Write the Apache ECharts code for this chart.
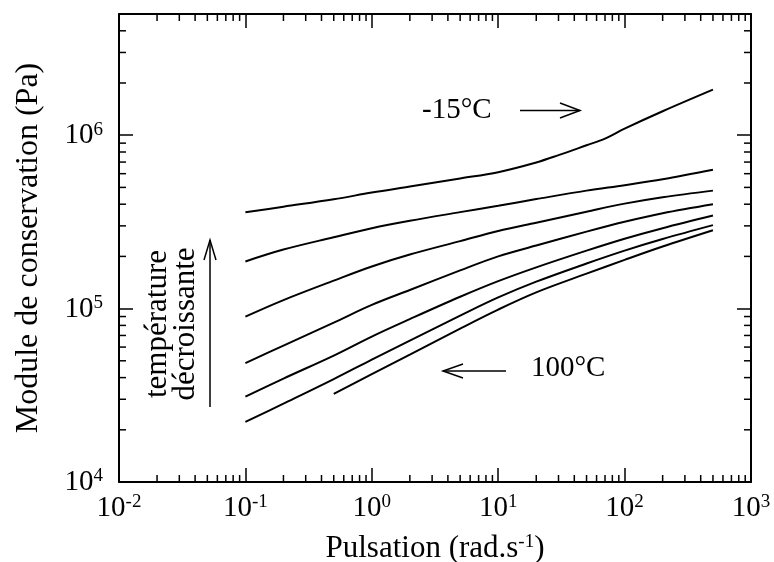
<!DOCTYPE html>
<html>
<head>
<meta charset="utf-8">
<script src="https://cdn.jsdelivr.net/npm/echarts@6/dist/echarts.min.js"></script>
<style>
html,body{margin:0;padding:0;background:#fff;}
#chart{width:774px;height:562px;}
</style>
</head>
<body>
<div id="chart"></div>
<script>
// ---- data ----
const omega = [0.1, 0.2, 0.5, 1, 2, 5, 10, 20, 50, 100, 200, 500];
const omegaTop = [0.1, 0.2, 0.5, 1, 2, 5, 10, 20, 30, 50, 70, 100, 200, 500];
const G_m15 = [3.59e5, 3.87e5, 4.27e5, 4.67e5, 5.06e5, 5.63e5, 6.12e5, 6.96e5, 7.67e5, 8.75e5, 9.55e5, 1.09e6, 1.374e6, 1.83e6];
const G_2 = [1.87e5, 2.19e5, 2.58e5, 2.91e5, 3.21e5, 3.60e5, 3.92e5, 4.28e5, 4.79e5, 5.15e5, 5.57e5, 6.32e5];
const G_3 = [8.99e4, 1.12e5, 1.45e5, 1.75e5, 2.05e5, 2.45e5, 2.80e5, 3.13e5, 3.62e5, 4.03e5, 4.39e5, 4.79e5];
const G_4 = [4.85e4, 6.12e4, 8.30e4, 1.05e5, 1.28e5, 1.66e5, 2.00e5, 2.31e5, 2.78e5, 3.17e5, 3.55e5, 4.00e5];
const G_5 = [3.11e4, 3.95e4, 5.36e4, 6.90e4, 8.70e4, 1.17e5, 1.44e5, 1.73e5, 2.16e5, 2.53e5, 2.91e5, 3.44e5];
const G_6 = [2.22e4, 2.83e4, 3.92e4, 5.08e4, 6.54e4, 9.11e4, 1.16e5, 1.43e5, 1.82e5, 2.16e5, 2.52e5, 3.03e5];
const omega100 = [0.5, 1, 2, 5, 10, 20, 50, 100, 200, 500];
const G_100 = [3.22e4, 4.19e4, 5.43e4, 7.67e4, 9.87e4, 1.24e5, 1.59e5, 1.91e5, 2.28e5, 2.83e5];

const xRange = [0.01, 1000];
const yRange = [1e4, 5e6];
const xTitle = 'Pulsation (rad.s{sup|-1})';
const yTitle = 'Module de conservation (Pa)';
const labelHot = '-15°C';
const labelCold = '100°C';
const labelTemp = 'température\ndécroissante';

// minor tick values (2..9 x 10^k)
function minorValues(lo, hi) {
  const out = [];
  for (let k = Math.floor(Math.log10(lo)); k <= Math.ceil(Math.log10(hi)); k++) {
    for (let m = 2; m <= 9; m++) {
      const v = m * Math.pow(10, k);
      if (v > lo && v < hi) out.push(v);
    }
  }
  return out;
}
const xMinor = minorValues(xRange[0], xRange[1]);
const yMinor = minorValues(yRange[0], yRange[1]);

const FONT = '"Liberation Serif", "Times New Roman", serif';

function decadeLabel(v) {
  const e = Math.log10(v);
  const n = Math.round(e);
  if (Math.abs(e - n) > 1e-6) return '';
  return '{b|10}{s|' + n + '}';
}
const tickRich = {
  b: { fontFamily: FONT, fontSize: 29, color: '#000', lineHeight: 30, verticalAlign: 'bottom' },
  s: { fontFamily: FONT, fontSize: 19, color: '#000', lineHeight: 30, verticalAlign: 'top', padding: [0, 0, 12, 0] }
};

function pair(xs, ys) { return xs.map((x, i) => [x, ys[i]]); }

const lineStyle = { color: '#000', width: 2 };
function curve(name, xs, ys) {
  return {
    name: name, type: 'line', data: pair(xs, ys), showSymbol: false, symbol: 'none',
    smooth: 0.35, lineStyle: lineStyle, xAxisIndex: 0, yAxisIndex: 0, silent: true, z: 3
  };
}

const axisLineStyle = { color: '#000', width: 2 };
const majorTick = { show: true, inside: true, length: 14, lineStyle: { color: '#000', width: 1.5 } };

const chart = echarts.init(document.getElementById('chart'), null, { renderer: 'canvas' });
chart.setOption({
  animation: false,
  backgroundColor: '#fff',
  grid: { left: 119, right: 23, top: 14, bottom: 80, containLabel: false, outerBoundsMode: 'none' },
  xAxis: [
    {
      type: 'log', logBase: 10, min: xRange[0], max: xRange[1], position: 'bottom',
      axisLine: { show: true, lineStyle: axisLineStyle },
      axisTick: majorTick,
      splitLine: { show: false },
      axisLabel: { formatter: decadeLabel, rich: tickRich, margin: 11, color: '#000' },
      name: xTitle, nameLocation: 'middle', nameGap: 51,
      nameTextStyle: {
        fontFamily: FONT, fontSize: 31, color: '#000', lineHeight: 32,
        rich: { sup: { fontFamily: FONT, fontSize: 19, color: '#000', verticalAlign: 'top', lineHeight: 16 } }
      }
    },
    {
      type: 'log', logBase: 10, min: xRange[0], max: xRange[1], position: 'top',
      axisLine: { show: true, lineStyle: axisLineStyle },
      axisTick: majorTick, axisLabel: { show: false }, splitLine: { show: false }
    }
  ],
  yAxis: [
    {
      type: 'log', logBase: 10, min: yRange[0], max: yRange[1], position: 'left',
      axisLine: { show: true, lineStyle: axisLineStyle },
      axisTick: majorTick,
      splitLine: { show: false },
      axisLabel: { formatter: decadeLabel, rich: tickRich, margin: 16, color: '#000' },
      name: yTitle, nameLocation: 'middle', nameGap: 74, nameRotate: 90,
      nameTextStyle: { fontFamily: FONT, fontSize: 32, color: '#000' }
    },
    {
      type: 'log', logBase: 10, min: yRange[0], max: yRange[1], position: 'right',
      axisLine: { show: true, lineStyle: axisLineStyle },
      axisTick: majorTick, axisLabel: { show: false }, splitLine: { show: false }
    }
  ],
  series: [
    curve('-15°C', omegaTop, G_m15),
    curve('T2', omega, G_2),
    curve('T3', omega, G_3),
    curve('T4', omega, G_4),
    curve('T5', omega, G_5),
    curve('T6', omega, G_6),
    curve('100°C', omega100, G_100),
    {
      type: 'custom', xAxisIndex: 0, yAxisIndex: 0, silent: true, clip: false,
      data: xMinor.map(v => [v, 1e5]),
      renderItem: function (params, api) {
        const p = api.coord([api.value(0), api.value(1)]);
        const cs = params.coordSys;
        const st = { stroke: '#000', lineWidth: 1.5 };
        return { type: 'group', children: [
          { type: 'line', shape: { x1: p[0], y1: cs.y + cs.height, x2: p[0], y2: cs.y + cs.height - 7 }, style: st },
          { type: 'line', shape: { x1: p[0], y1: cs.y, x2: p[0], y2: cs.y + 7 }, style: st }
        ] };
      }
    },
    {
      type: 'custom', xAxisIndex: 0, yAxisIndex: 0, silent: true, clip: false,
      data: yMinor.map(v => [1, v]),
      renderItem: function (params, api) {
        const p = api.coord([api.value(0), api.value(1)]);
        const cs = params.coordSys;
        const st = { stroke: '#000', lineWidth: 1.5 };
        return { type: 'group', children: [
          { type: 'line', shape: { x1: cs.x, y1: p[1], x2: cs.x + 7, y2: p[1] }, style: st },
          { type: 'line', shape: { x1: cs.x + cs.width, y1: p[1], x2: cs.x + cs.width - 7, y2: p[1] }, style: st }
        ] };
      }
    }
  ],
  graphic: [
    { type: 'text', left: 422, top: 96, style: { text: labelHot, font: '29px ' + FONT, fill: '#000' } },
    { type: 'polyline', shape: { points: [[520, 110.5], [580, 110.5]] }, style: { stroke: '#000', lineWidth: 1.5, fill: null } },
    { type: 'polyline', shape: { points: [[560, 103], [580, 110.5], [560, 118]] }, style: { stroke: '#000', lineWidth: 1.5, fill: null } },
    { type: 'text', left: 531, top: 354, style: { text: labelCold, font: '29px ' + FONT, fill: '#000' } },
    { type: 'polyline', shape: { points: [[443, 371], [506, 371]] }, style: { stroke: '#000', lineWidth: 1.5, fill: null } },
    { type: 'polyline', shape: { points: [[463, 364], [443, 371], [463, 378]] }, style: { stroke: '#000', lineWidth: 1.5, fill: null } },
    { type: 'text', x: 172, y: 324, rotation: Math.PI / 2,
      style: { text: labelTemp, font: '31px ' + FONT, fill: '#000', align: 'center', verticalAlign: 'middle', lineHeight: 28 } },
    { type: 'polyline', shape: { points: [[210, 407], [210, 240]] }, style: { stroke: '#000', lineWidth: 1.5, fill: null } },
    { type: 'polyline', shape: { points: [[204, 260], [210, 240], [216, 260]] }, style: { stroke: '#000', lineWidth: 1.5, fill: null } }
  ]
});
</script>
</body>
</html>
